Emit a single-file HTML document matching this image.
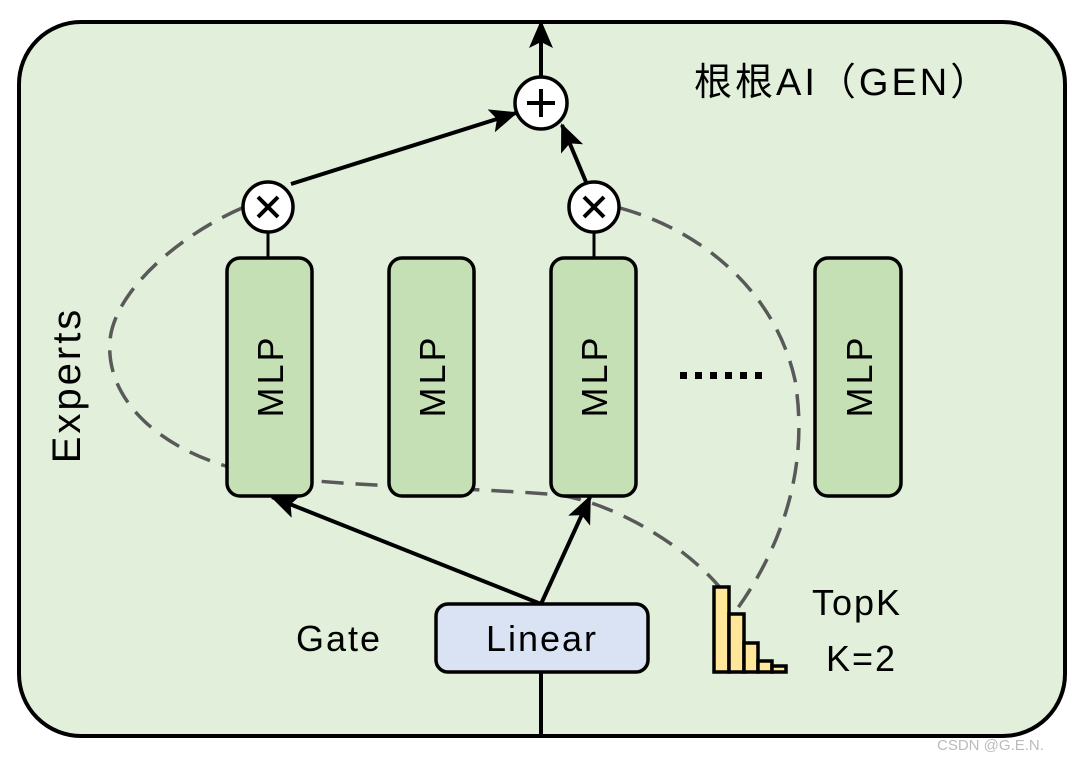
<!DOCTYPE html>
<html><head><meta charset="utf-8"><style>
html,body{margin:0;padding:0;background:#fff;}
svg{display:block;}
text{font-family:"Liberation Sans","DejaVu Sans","Noto Sans CJK SC",sans-serif;fill:#000;}
</style></head><body>
<svg width="1075" height="760" viewBox="0 0 1075 760" xmlns="http://www.w3.org/2000/svg">
<defs>
<marker id="ah" markerWidth="28" markerHeight="24" refX="26" refY="12" orient="auto" markerUnits="userSpaceOnUse" viewBox="0 0 28 24">
<path d="M0,0 L28,12 L0,24 L6,12 Z" fill="#000"/>
</marker>
</defs>
<rect x="19" y="22" width="1046" height="714" rx="62" fill="#e2efda" stroke="#000" stroke-width="4"/>
<path d="M242,208 C180,235 115,290 110,340 C105,400 160,450 240,470 C320,488 440,485 560,495 C620,505 690,550 722,590" fill="none" stroke="#595959" stroke-width="3.5" stroke-dasharray="22,12"/>
<path d="M620,208 C700,230 775,290 795,380 C810,470 780,550 735,612" fill="none" stroke="#595959" stroke-width="3.5" stroke-dasharray="22,12"/>
<g fill="#c5e0b4" stroke="#000" stroke-width="3.5">
<rect x="227" y="258" width="85" height="238" rx="13"/>
<rect x="389" y="258" width="85" height="238" rx="13"/>
<rect x="551" y="258" width="85" height="238" rx="13"/>
<rect x="815" y="258" width="86" height="238" rx="13"/>
</g>
<g font-size="36" letter-spacing="3">
<text transform="translate(283,376) rotate(-90)" text-anchor="middle">MLP</text>
<text transform="translate(445,376) rotate(-90)" text-anchor="middle">MLP</text>
<text transform="translate(607,376) rotate(-90)" text-anchor="middle">MLP</text>
<text transform="translate(872,376) rotate(-90)" text-anchor="middle">MLP</text>
</g>
<g fill="#000">
<rect x="680" y="372" width="7" height="7"/><rect x="695" y="372" width="7" height="7"/><rect x="710" y="372" width="7" height="7"/><rect x="725" y="372" width="7" height="7"/><rect x="740" y="372" width="7" height="7"/><rect x="755" y="372" width="7" height="7"/>
</g>
<g stroke="#000" stroke-width="4" fill="none">
<line x1="268" y1="232" x2="268" y2="258" stroke-width="3"/>
<line x1="594" y1="232" x2="594" y2="258" stroke-width="3"/>
<line x1="541" y1="77" x2="541" y2="22" marker-end="url(#ah)"/>
<line x1="291" y1="184" x2="516" y2="113" marker-end="url(#ah)"/>
<line x1="586" y1="182" x2="562" y2="125" marker-end="url(#ah)"/>
<line x1="541" y1="604" x2="272" y2="497" marker-end="url(#ah)"/>
<line x1="541" y1="604" x2="590" y2="497" marker-end="url(#ah)"/>
<line x1="541" y1="672" x2="541" y2="738"/>
</g>
<g fill="#fff" stroke="#000" stroke-width="3.5">
<circle cx="541" cy="103" r="26"/>
<circle cx="268" cy="207" r="25"/>
<circle cx="594" cy="207" r="25"/>
</g>
<g stroke="#000" stroke-width="4">
<line x1="527" y1="103" x2="555" y2="103"/><line x1="541" y1="89" x2="541" y2="117"/>
<line x1="258" y1="197" x2="278" y2="217"/><line x1="278" y1="197" x2="258" y2="217"/>
<line x1="584" y1="197" x2="604" y2="217"/><line x1="604" y1="197" x2="584" y2="217"/>
</g>
<rect x="436" y="604" width="212" height="68" rx="12" fill="#dae3f3" stroke="#000" stroke-width="3.5"/>
<text x="542" y="651" font-size="36" letter-spacing="2" text-anchor="middle">Linear</text>
<text x="296" y="651" font-size="36" letter-spacing="2">Gate</text>
<g fill="#ffe699" stroke="#000" stroke-width="3.5">
<rect x="714" y="587" width="15" height="85"/>
<rect x="729" y="614" width="15" height="58"/>
<rect x="744" y="643" width="14" height="29"/>
<rect x="758" y="661" width="14" height="11"/>
<rect x="772" y="666" width="14" height="6"/>
</g>
<text x="812" y="615" font-size="36" letter-spacing="2">TopK</text>
<text x="826" y="671" font-size="36" letter-spacing="2">K=2</text>
<text x="694" y="95" font-size="38" letter-spacing="3">根根AI（GEN）</text>
<text transform="translate(80,385) rotate(-90)" text-anchor="middle" font-size="40" letter-spacing="3">Experts</text>
<text x="937" y="750" font-size="15" style="fill:#bbb">CSDN @G.E.N.</text>
</svg>
</body></html>
